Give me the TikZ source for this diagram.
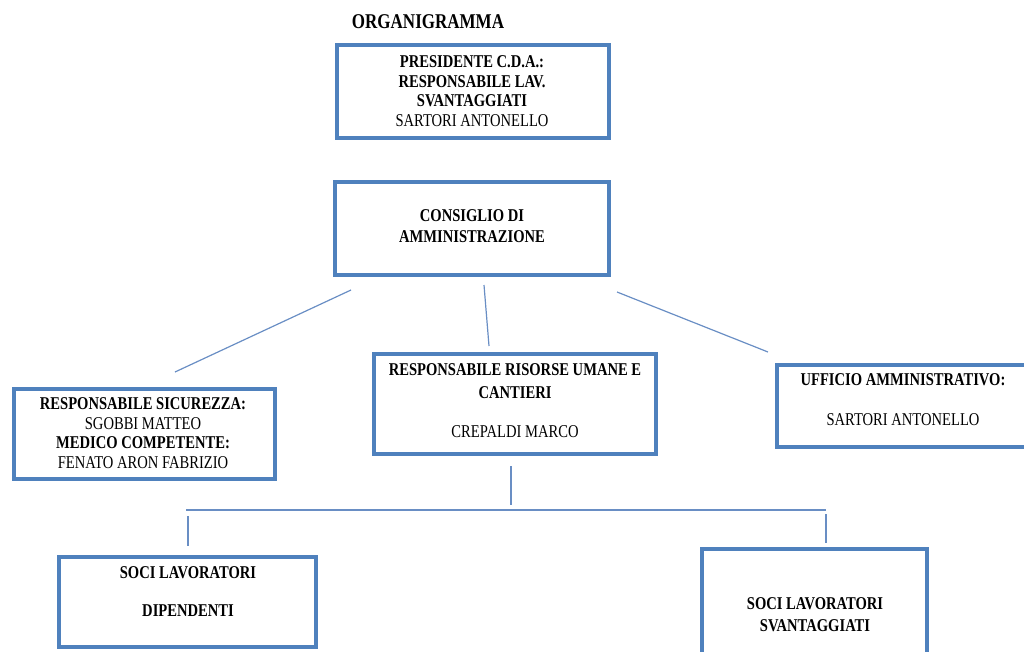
\documentclass[tikz,border=0pt]{standalone}
\usepackage{fontspec}
\setmainfont[FakeStretch=0.81]{Liberation Serif}
\definecolor{boxblue}{RGB}{79,129,189}
\definecolor{lineblue}{RGB}{105,142,196}
\begin{document}
\begin{tikzpicture}[x=1pt,y=-1pt,
  box/.style={draw=boxblue,line width=4pt,rectangle,inner sep=0pt},
  txt/.style={align=center,font=\fontsize{18}{19.5}\selectfont,inner sep=0pt},
  conn/.style={draw=lineblue,line width=1.2pt}]
\useasboundingbox (0,0) rectangle (1024,651);
\clip (0,0) rectangle (1024,651);
% title
\node[txt,font=\fontsize{21}{22}\selectfont\bfseries] (title) at (428,22) {ORGANIGRAMMA};
% boxes
\node[box,minimum width=272pt,minimum height=93pt] (pres) at (472.5,91) {};
\node[box,minimum width=274pt,minimum height=93pt] (cda) at (471.5,228) {};
\node[box,minimum width=261pt,minimum height=90pt] (sic) at (144,433.5) {};
\node[box,minimum width=282pt,minimum height=100pt] (rum) at (514.5,403.5) {};
\node[box,minimum width=262pt,minimum height=82pt] (amm) at (907.5,405.5) {};
\node[box,minimum width=257pt,minimum height=90pt] (dip) at (187,601.5) {};
\node[box,minimum width=225pt,minimum height=140pt] (svan) at (814,618.5) {};
% texts
\node[txt] (presT) at (472,91) {\textbf{PRESIDENTE C.D.A.:}\\\textbf{RESPONSABILE LAV.}\\\textbf{SVANTAGGIATI}\\SARTORI ANTONELLO};
\node[txt,font=\fontsize{18}{21}\selectfont\bfseries] (cdaT) at (472,226) {CONSIGLIO DI\\AMMINISTRAZIONE};
\node[txt] (sicT) at (143,433) {\textbf{RESPONSABILE SICUREZZA:}\\SGOBBI MATTEO\\\textbf{MEDICO COMPETENTE:}\\FENATO ARON FABRIZIO};
\node[txt] (rumT) at (515,401) {\textbf{RESPONSABILE RISORSE UMANE E}\\[3.5pt]\textbf{CANTIERI}\\[19.5pt]CREPALDI MARCO};
\node[txt] (ammT) at (903,400) {\textbf{UFFICIO AMMINISTRATIVO:}\\[20.5pt]SARTORI ANTONELLO};
\node[txt,font=\fontsize{18}{19.5}\selectfont\bfseries] (dipT) at (188,592) {SOCI LAVORATORI\\[18.5pt]DIPENDENTI};
\node[txt,font=\fontsize{18}{19.5}\selectfont\bfseries] (svanT) at (815,615) {SOCI LAVORATORI\\[2.5pt]SVANTAGGIATI};
% connector end points
\coordinate (l1a) at (351,290); \coordinate (l1b) at (175,372);
\coordinate (l2a) at (484,285); \coordinate (l2b) at (489,346);
\coordinate (l3a) at (617,292); \coordinate (l3b) at (768,352);
\coordinate (v1a) at (511,466); \coordinate (v1b) at (511,505);
\coordinate (hl) at (186,510); \coordinate (hr) at (826,510);
\coordinate (vla) at (188,516); \coordinate (vlb) at (188,546);
\coordinate (vra) at (826,514); \coordinate (vrb) at (826,543);
\draw[conn] (l1a) -- (l1b);
\draw[conn] (l2a) -- (l2b);
\draw[conn] (l3a) -- (l3b);
\draw[conn] (v1a) -- (v1b);
\draw[conn] (hl) -- (hr);
\draw[conn] (vla) -- (vlb);
\draw[conn] (vra) -- (vrb);
\end{tikzpicture}
\end{document}
